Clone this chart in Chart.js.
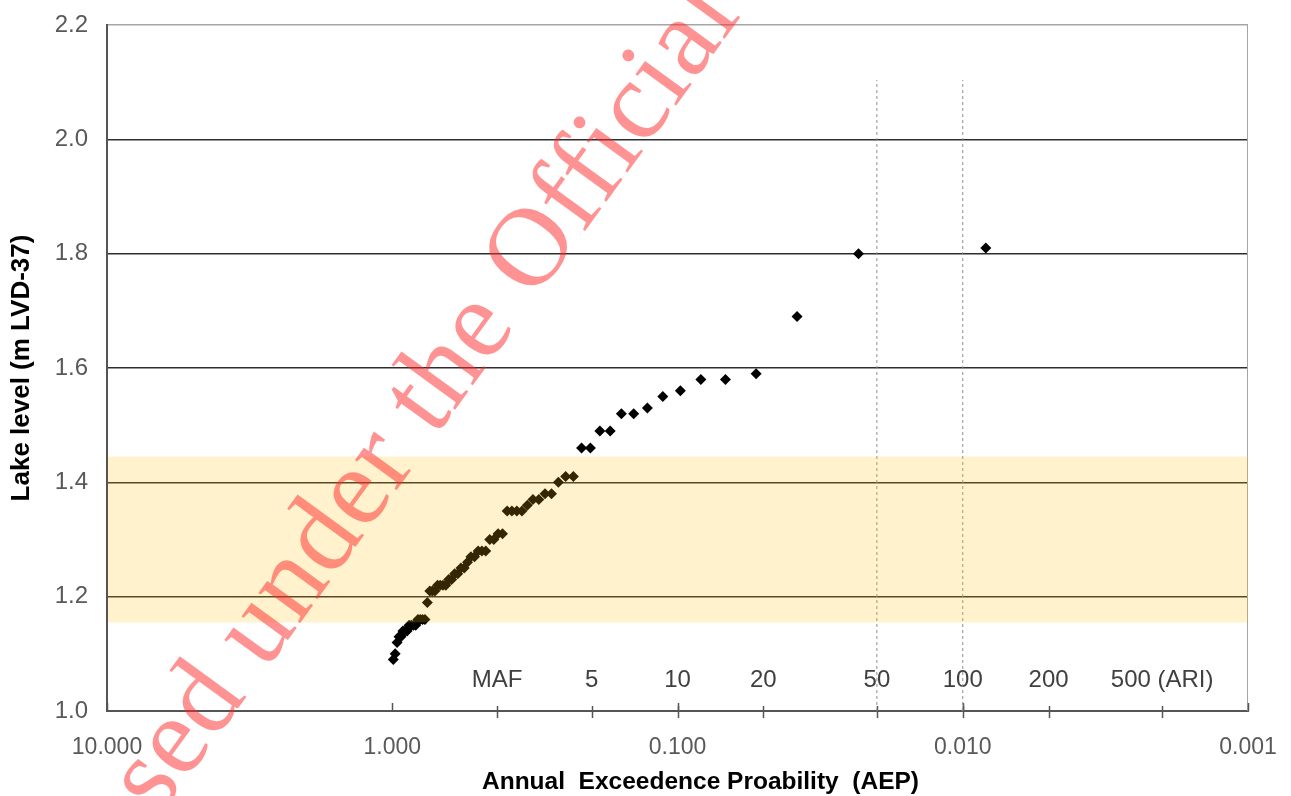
<!DOCTYPE html>
<html>
<head>
<meta charset="utf-8">
<title>Lake level frequency</title>
<script src="https://cdn.jsdelivr.net/npm/chart.js@4.4.1/dist/chart.umd.min.js"></script>
<style>
  html, body { margin: 0; padding: 0; background: #fff; overflow: hidden; }
  #wrap { width: 1291px; height: 796px; position: relative; }
</style>
</head>
<body>
<div id="wrap"><canvas id="aepChart"></canvas></div>
<script>
// Annual maximum lake levels, ranked, with their plotting-position AEP
const aep = [
    0.0083, 0.0232, 0.0381, 0.0530, 0.0679, 0.0828, 0.0977, 0.1126, 0.1275, 0.1424,
    0.1573, 0.1722, 0.1871, 0.2020, 0.2169, 0.2318, 0.2467, 0.2616, 0.2765, 0.2914,
    0.3063, 0.3212, 0.3361, 0.3510, 0.3659, 0.3808, 0.3957, 0.4106, 0.4255, 0.4404,
    0.4553, 0.4702, 0.4851, 0.5000, 0.5149, 0.5298, 0.5447, 0.5596, 0.5745, 0.5894,
    0.6043, 0.6192, 0.6341, 0.6490, 0.6639, 0.6788, 0.6937, 0.7086, 0.7235, 0.7384,
    0.7533, 0.7682, 0.7831, 0.7980, 0.8129, 0.8278, 0.8427, 0.8576, 0.8725, 0.8874,
    0.9023, 0.9172, 0.9321, 0.9470, 0.9619, 0.9768, 0.9917
];
const lakeLevel = [
    1.81, 1.80, 1.69, 1.59, 1.58, 1.58, 1.56, 1.55, 1.53, 1.52,
    1.52, 1.49, 1.49, 1.46, 1.46, 1.41, 1.41, 1.40, 1.38, 1.38,
    1.37, 1.37, 1.36, 1.35, 1.35, 1.35, 1.35, 1.31, 1.31, 1.30,
    1.30, 1.28, 1.28, 1.28, 1.27, 1.27, 1.26, 1.25, 1.25, 1.24,
    1.24, 1.23, 1.23, 1.22, 1.22, 1.22, 1.22, 1.21, 1.21, 1.21,
    1.19, 1.16, 1.16, 1.16, 1.16, 1.15, 1.15, 1.15, 1.15, 1.14,
    1.14, 1.14, 1.13, 1.13, 1.12, 1.10, 1.09
];

// axis ticks
const xTickValues = [10, 1, 0.1, 0.01, 0.001];
const yMin = 1.0, yMax = 2.2, yStep = 0.2;

// ARI annotations along the bottom
const ariLabels = ['MAF', '5', '10', '20', '50', '100', '200', '500 (ARI)'];
const ariAep = [0.429, 0.2, 0.1, 0.05, 0.02, 0.01, 0.005, 0.002];
const ariLabelLevel = 1.053;

// reference lines and shaded range
const refLineAep = [0.02, 0.01];
const refLineTop = 2.104;
const bandLow = 1.155, bandHigh = 1.445;

const xTitle = 'Annual  Exceedence Proability  (AEP)';
const yTitle = 'Lake level (m LVD-37)';
const watermarkText = 'Released under the Official Information Act';

const overlays = {
    id: 'overlays',
    beforeDatasetsDraw(chart) {
        const { ctx, chartArea: a, scales: { x, y } } = chart;
        ctx.save();
        // right frame
        ctx.strokeStyle = '#a6a6a6';
        ctx.lineWidth = 1;
        ctx.beginPath();
        ctx.moveTo(a.right - 0.5, a.top);
        ctx.lineTo(a.right - 0.5, a.bottom);
        ctx.stroke();

        // tick marks on the x axis
        ctx.strokeStyle = '#555';
        ctx.lineWidth = 1.5;
        xTickValues.forEach(v => {
            const px = Math.round(x.getPixelForValue(v)) + 0.5;
            ctx.beginPath();
            ctx.moveTo(px, a.bottom - 8);
            ctx.lineTo(px, a.bottom);
            ctx.stroke();
        });
        ariAep.forEach(v => {
            const px = Math.round(x.getPixelForValue(v)) + 0.5;
            ctx.beginPath();
            ctx.moveTo(px, a.bottom - 5);
            ctx.lineTo(px, a.bottom + 7);
            ctx.stroke();
        });

        // ARI labels
        ctx.fillStyle = '#404040';
        ctx.font = '24px "Liberation Sans", Arial, sans-serif';
        ctx.textAlign = 'center';
        ctx.textBaseline = 'middle';
        const ly = y.getPixelForValue(ariLabelLevel);
        ariAep.forEach((v, i) => {
            ctx.fillText(ariLabels[i], x.getPixelForValue(v), ly);
        });

        // x axis title (sits a little right of centre in the original)
        ctx.fillStyle = '#000';
        ctx.font = 'bold 24.5px "Liberation Sans", Arial, sans-serif';
        ctx.fillText(xTitle, (a.left + a.right) / 2 + 23, 782);
        ctx.restore();
    },
    afterDatasetsDraw(chart) {
        const { ctx, chartArea: a, scales: { y } } = chart;
        const top = y.getPixelForValue(bandHigh);
        const bottom = y.getPixelForValue(bandLow);
        ctx.save();
        ctx.fillStyle = 'rgba(255, 190, 0, 0.2)';
        ctx.fillRect(a.left + 1, top, a.right - a.left - 1, bottom - top);
        ctx.restore();
    },
    afterDraw(chart) {
        const { ctx } = chart;
        ctx.save();
        ctx.font = '112px "Liberation Serif", "Times New Roman", serif';
        ctx.letterSpacing = '1px';
        ctx.fillStyle = 'rgba(255, 40, 40, 0.5)';
        ctx.textBaseline = 'alphabetic';
        const lead = ctx.measureText('Released under the ').width;
        ctx.translate(534, 301);
        ctx.rotate(-54 * Math.PI / 180);
        ctx.fillText(watermarkText, -lead, 0);
        ctx.restore();
    }
};

document.addEventListener('DOMContentLoaded', function() {
    Chart.defaults.font.family = '"Liberation Sans", Arial, sans-serif';
    const ctx = document.getElementById('aepChart').getContext('2d');

    const points = aep.map((p, i) => ({ x: p, y: lakeLevel[i] }));
    const refLines = refLineAep.map(p => ({
        type: 'line',
        data: [{ x: p, y: yMin }, { x: p, y: refLineTop }],
        borderColor: '#8f8f8f',
        borderWidth: 1,
        borderDash: [3, 3],
        pointRadius: 0,
        showLine: true,
        fill: false
    }));

    new Chart(ctx, {
        type: 'scatter',
        data: {
            datasets: [
                {
                    label: 'Annual maximum lake level',
                    data: points,
                    pointStyle: 'rectRot',
                    pointRadius: 5.5,
                    pointHoverRadius: 5.5,
                    backgroundColor: '#000',
                    borderWidth: 0
                },
                ...refLines
            ]
        },
        options: {
            responsive: true,
            maintainAspectRatio: false,
            animation: false,
            devicePixelRatio: 1,
            layout: { padding: { top: 25, right: 43, left: 0, bottom: 0 } },
            scales: {
                x: {
                    type: 'logarithmic',
                    reverse: true,
                    min: 0.001,
                    max: 10,
                    afterBuildTicks: function(scale) {
                        scale.ticks = xTickValues.map(v => ({ value: v }));
                    },
                    afterFit: function(scale) { scale.height = 85; },
                    grid: { display: false },
                    border: { display: true, color: '#555', width: 2 },
                    ticks: {
                        autoSkip: false,
                        maxRotation: 0,
                        padding: 8,
                        color: '#595959',
                        font: { size: 23, lineHeight: 1.81 },
                        callback: v => Number(v).toFixed(3)
                    },
                    title: { display: false }
                },
                y: {
                    min: yMin,
                    max: yMax,
                    afterFit: function(scale) { scale.width = 107; },
                    grid: {
                        drawTicks: false,
                        lineWidth: 1.5,
                        color: c => {
                            const v = Math.round(c.tick.value * 10) / 10;
                            if (v === yMin) return 'rgba(0,0,0,0)';
                            if (v === yMax) return '#a6a6a6';
                            return '#2e2e2e';
                        }
                    },
                    border: { display: true, color: '#555', width: 2 },
                    ticks: {
                        stepSize: yStep,
                        padding: 19,
                        color: '#595959',
                        font: { size: 24, lineHeight: 0.4 },
                        callback: v => Number(v).toFixed(1)
                    },
                    title: {
                        display: true,
                        text: yTitle,
                        color: '#000',
                        font: { size: 26, weight: 'bold' },
                        padding: { top: 6, bottom: 0 }
                    }
                }
            },
            plugins: {
                legend: { display: false },
                tooltip: { enabled: false }
            },
            events: []
        },
        plugins: [overlays]
    });
});
</script>
</body>
</html>
